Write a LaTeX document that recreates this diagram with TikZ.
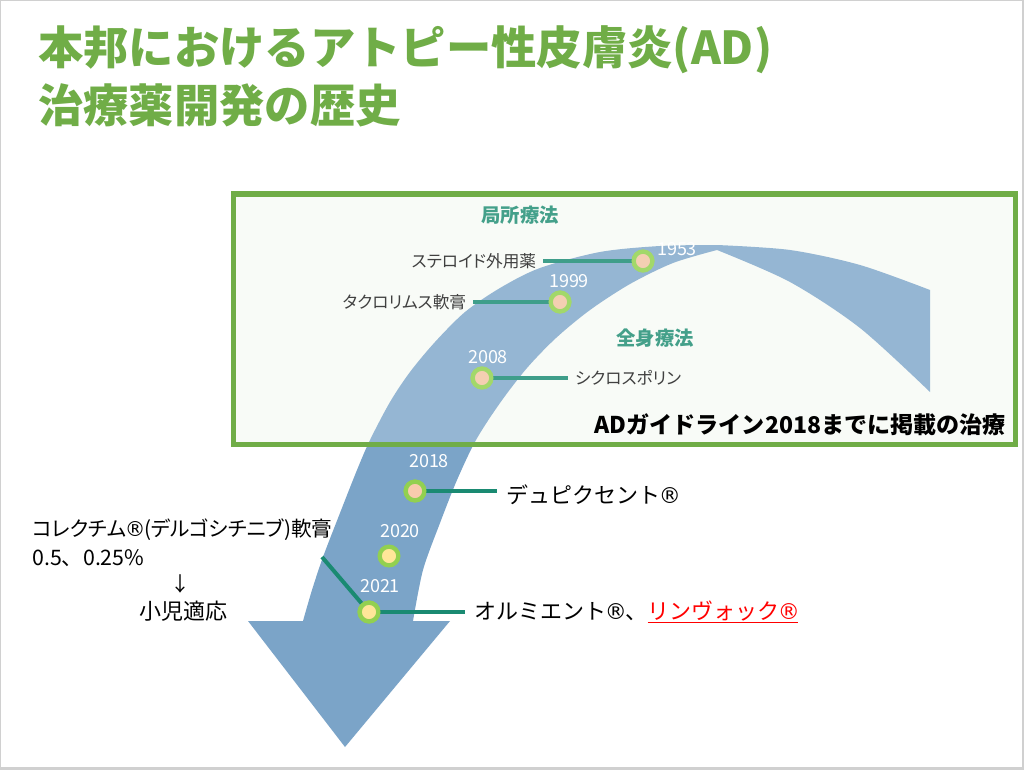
\documentclass[tikz,border=0pt]{standalone}
\usepackage{fontspec}
\setmainfont{Noto Sans CJK JP}[RawFeature=+palt]
\newfontfamily\fullfont{Noto Sans CJK JP}
\newfontfamily\dejavu{DejaVu Sans}
\newcommand{\regmark}{\kern-0.08em{\dejavu\char"00AE}\kern-0.06em}
\definecolor{titlegreen}{HTML}{70AD47}
\definecolor{boxbg}{HTML}{F7FAF5}
\definecolor{arrowblue}{HTML}{7BA4C8}
\definecolor{tealhead}{HTML}{44A08A}
\definecolor{tealin}{HTML}{3F9E8A}
\definecolor{tealout}{HTML}{1A8A72}
\definecolor{ringin}{HTML}{A2D86A}
\definecolor{ringout}{HTML}{92D050}
\definecolor{peachin}{HTML}{F4CFB2}
\definecolor{peach}{HTML}{F8CBAD}
\definecolor{yellowdot}{HTML}{FFE699}
\definecolor{smallgray}{HTML}{404040}
\definecolor{framegray}{HTML}{D0D0D0}
\tikzset{
  yearlab/.style={text=white, font=\fontsize{13.5}{15}\selectfont, inner sep=0pt},
  dotin/.style={circle, draw=ringin, fill=peachin, line width=3.2pt, minimum size=14pt, inner sep=0pt},
  dotout/.style={circle, draw=ringout, line width=3.2pt, minimum size=14pt, inner sep=0pt},
  smalllab/.style={text=smallgray, font=\fontsize{12.5}{14}\selectfont, inner ysep=0pt, inner xsep=5pt},
  biglab/.style={text=black, font=\fullfont\fontsize{16.5}{20}\selectfont, inner ysep=0pt, inner xsep=7pt},
  headlab/.style={text=tealhead, font=\bfseries\fontsize{14.5}{16}\selectfont, inner sep=0pt},
  titlelab/.style={text=titlegreen, font=\fullfont\bfseries\fontsize{34}{38}\selectfont, inner sep=0pt, anchor=west},
  lefttext/.style={text=black, font=\fontsize{15.5}{19}\selectfont, inner sep=0pt},
  linein/.style={tealin, line width=3pt},
  lineout/.style={tealout, line width=3pt}
}
\begin{document}
\begin{tikzpicture}[x=0.75pt, y=-0.75pt]
\useasboundingbox (0,0) rectangle (1024,770);
% slide frame
\fill[framegray] (0,0) rectangle (1024,770);
\fill[white] (1,1.2) rectangle (1021.5,767);
% title
\node[titlelab] (t1) at (38,50) {本邦におけるアトピー性皮膚炎(AD)};
\node[titlelab] (t2) at (38,105) {治療薬開発の歴史};
% box background
\fill[boxbg] (233,194) rectangle (1015,444);
% curved arrow
\fill[arrowblue] (345,747) -- (450,621) -- (413,621)
  -- plot[smooth] coordinates {(413,621) (423,570) (440,523) (457,480) (476,440) (500,403) (527,368) (556,338) (590,310) (630,284) (673,263) (717,250)}
  -- plot[smooth] coordinates {(717,250) (790,282) (860,328) (930,392)}
  -- (930,290)
  -- plot[smooth] coordinates {(930,290) (860,265) (790,250) (717,245)}
  -- plot[smooth] coordinates {(717,245) (660,246) (600,252) (540,268) (500,288) (465,312) (435,342) (410,372) (390,402) (370,440) (357,470) (340,513) (323,557) (312,590) (303,621)}
  -- (248,621) -- cycle;
% box overlay and border
\fill[white, fill opacity=0.2] (233,194) rectangle (1015,444);
\draw[titlegreen, line width=3.75pt] (233,194) rectangle (1015,444);
% headings in box
\node[headlab] (h1) at (520,215) {局所療法};
\node[headlab] (h2) at (655,338) {全身療法};
\node[text=black, font=\fullfont\bfseries\fontsize{17.3}{19}\selectfont, inner sep=0pt, anchor=east] (adg) at (1006,425) {ADガイドライン2018までに掲載の治療};
% 1953
\node[smalllab, anchor=east] (l1953) at (543,261) {ステロイド外用薬};
\node[dotin] (c1953) at (643,261) {};
\draw[linein] (l1953.east) -- (c1953);
\node[dotin] at (c1953) {};
\node[yearlab] (y1953) at (677,249) {1953};
% 1999
\node[smalllab, anchor=east] (l1999) at (473,302) {タクロリムス軟膏};
\node[dotin] (c1999) at (560,302) {};
\draw[linein] (l1999.east) -- (c1999);
\node[dotin] at (c1999) {};
\node[yearlab] (y1999) at (569,281) {1999};
% 2008
\node[smalllab, anchor=west] (l2008) at (568,378) {シクロスポリン};
\node[dotin] (c2008) at (482,378) {};
\draw[linein] (c2008) -- (l2008.west);
\node[dotin] at (c2008) {};
\node[yearlab] (y2008) at (488,357) {2008};
% 2018
\node[biglab, anchor=west] (l2018) at (497,495) {デュピクセント\regmark};
\node[dotout, fill=peach] (c2018) at (415,491) {};
\draw[lineout] (c2018) -- (c2018 -| l2018.west);
\node[dotout, fill=peach] at (c2018) {};
\node[yearlab] (y2018) at (429,461) {2018};
% 2020
\node[dotout, fill=yellowdot] (c2020) at (389,556) {};
\node[yearlab] (y2020) at (400,531) {2020};
% 2021
\node[biglab, anchor=west] (l2021) at (465,612) {オルミエント\regmark、\textcolor{red}{\underline{リンヴォック\regmark}}};
\node[dotout, fill=yellowdot] (c2021) at (369,612) {};
\coordinate (kstart) at (322,557);
\draw[lineout] (kstart) -- (c2021);
\draw[lineout] (c2021) -- (c2021 -| l2021.west);
\node[dotout, fill=yellowdot] at (c2021) {};
\node[yearlab] (y2021) at (380,586) {2021};
% left text
\node[lefttext, anchor=west] (k1) at (32,530) {コレクチム\regmark(デルゴシチニブ)軟膏};
\node[lefttext, font=\fullfont\fontsize{16}{19}\selectfont, anchor=west] (k2) at (32,558) {0.5、0.25\%};
\node[lefttext, font=\fontsize{15}{17}\selectfont] (k3) at (180,584) {↓};
\node[lefttext, font=\fontsize{16.5}{19}\selectfont] (k4) at (183,611) {小児適応};
\end{tikzpicture}
\end{document}
